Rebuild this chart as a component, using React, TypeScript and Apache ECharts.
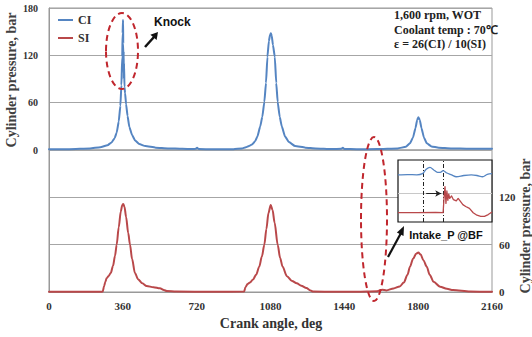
import React, { useEffect, useRef } from "react";
import * as echarts from "echarts";

// ---- Data ----
const ciAngles = [0, 100, 200, 250, 285, 305, 320, 330, 340, 348, 353, 357, 359, 361, 362, 363, 364, 365, 366, 368, 371, 376, 383, 392, 405, 420, 440, 470, 520, 580, 650, 700, 715, 722, 730, 800, 900, 940, 960, 975, 990, 1005, 1016, 1030, 1040, 1050, 1058, 1065, 1072, 1078, 1082, 1086, 1092, 1101, 1108, 1115, 1125, 1135, 1151, 1170, 1200, 1250, 1300, 1380, 1425, 1433, 1440, 1500, 1600, 1700, 1740, 1760, 1775, 1787, 1795, 1801, 1808, 1816, 1828, 1842, 1865, 1900, 1960, 2050, 2160];
const ciValues = [1, 1, 2, 3.5, 6, 9.5, 15, 22, 36, 56, 82, 118, 148, 165, 135, 100, 125, 90, 110, 80, 72, 58, 43, 29, 19, 12, 7.5, 5, 3, 2, 1.5, 1.2, 1.5, 3, 1.2, 1, 1, 2, 3.5, 5, 7, 11, 17, 30, 42, 61, 85, 118, 138, 146, 148, 145, 133, 118, 85, 61, 42, 30, 17, 10, 5, 3, 2, 1.2, 1.5, 3, 1.3, 1, 1.2, 2, 4, 8.5, 16, 28, 38, 41.5, 38, 28, 16, 8.5, 4.5, 3, 2, 1.5, 1.5];

const siAngles = [0, 250, 262, 268, 275, 281, 290, 301, 312, 322, 330, 340, 350, 357, 362, 368, 376, 386, 395, 405, 419, 435, 455, 476, 510, 541, 560, 574, 620, 800, 951, 958, 968, 980, 995, 1010, 1025, 1038, 1050, 1060, 1070, 1081, 1090, 1100, 1115, 1127, 1139, 1160, 1185, 1208, 1230, 1255, 1275, 1289, 1400, 1500, 1600, 1625, 1645, 1680, 1710, 1730, 1748, 1760, 1775, 1790, 1801, 1812, 1826, 1842, 1856, 1875, 1907, 1940, 1970, 2053, 2160];
const siValues = [0.3, 0.3, 0.5, 7, 13, 17.4, 20, 24, 33, 46, 60, 82, 102, 110, 111.6, 108, 95, 75, 60, 42, 24, 16, 11, 7.6, 6, 4.6, 2.5, 1.3, 0.5, 0.3, 0.5, 6, 10, 12, 16, 22, 32, 45, 60, 80, 100, 110.3, 104, 88, 60, 43, 32, 20, 14, 11, 8, 5, 2, 0.5, 0.3, 0.3, 1, 3, 2, 4.5, 7, 12, 22, 32, 42, 48.5, 50, 47.5, 40, 32, 22, 13, 6.7, 4, 2.5, 0.5, 0.3];

// Inset (zoomed intake-pressure view), arbitrary 0-100 scales
const insetX = [0, 10, 20, 26, 30, 34, 38, 42, 45, 48, 52, 57, 62, 70, 78, 84, 90, 95, 100];
const insetBlue = [76, 76.5, 76, 78, 85, 88, 84, 80, 80, 83, 79, 76, 73, 75, 76, 75, 73, 77, 78];
const insetRedX = [0, 20, 40, 48, 49, 50, 51, 52, 53, 54, 55, 57, 59, 62, 64, 66, 69, 72, 76, 80, 84, 88, 92, 96, 100];
const insetRed = [15, 15, 15.5, 15, 40, 57, 30, 50, 35, 45, 38, 42, 36, 34, 38, 34, 28, 25, 22, 15, 11, 9, 9, 12, 16];
const insetMarkers = [27, 48];
const insetRefLevel = 46;

const xTicks = [0, 360, 720, 1080, 1440, 1800, 2160];

const BLUE = "#5585c2";
const RED = "#b9484a";
const SERIF = "'Liberation Serif', 'Times New Roman', serif";
const SANS = "'Liberation Sans', Arial, sans-serif";

const zip = (a: number[], b: number[]) => a.map((v, i) => [v, b[i]]);

export default function App() {
  const ref = useRef<HTMLDivElement>(null);
  useEffect(() => {
    if (!ref.current) return;
    const chart = echarts.init(ref.current, null, { renderer: "svg" });
    const gridLine = { lineStyle: { color: "#a6a6a6", width: 1 } };
    const option: any = {
      animation: false,
      backgroundColor: "#fff",
      legend: {
        data: ["CI", "SI"],
        orient: "vertical",
        left: 53,
        top: 9,
        itemWidth: 15,
        itemHeight: 2,
        itemGap: 6,
        icon: "rect",
        textStyle: { fontFamily: SERIF, fontWeight: "bold", fontSize: 12, color: "#333" },
      },
      grid: [
        { left: 49, top: 8, width: 443, height: 142, show: true, borderColor: "#999", borderWidth: 1 },
        { left: 49, top: 150, width: 443, height: 142, show: true, borderColor: "#999", borderWidth: 1 },
        { left: 398, top: 160, width: 94, height: 62, show: true, borderColor: "#111", borderWidth: 1.2, backgroundColor: "#fff", z: 5 },
      ],
      xAxis: [
        { gridIndex: 0, type: "value", min: 0, max: 2160, interval: 360, show: false },
        {
          gridIndex: 1, type: "value", min: 0, max: 2160, interval: 360,
          axisLine: { show: true, lineStyle: { color: "#999" } },
          axisTick: { show: false },
          splitLine: { show: false },
          axisLabel: { margin: 8, fontFamily: SERIF, fontWeight: "bold", fontSize: 11, color: "#333",
            formatter: (v: number) => (xTicks.includes(v) ? String(v) : "") },
        },
        { gridIndex: 2, type: "value", min: 0, max: 100, show: false },
      ],
      yAxis: [
        {
          gridIndex: 0, type: "value", min: 0, max: 180, interval: 60,
          axisLine: { show: true, lineStyle: { color: "#999" } }, axisTick: { show: false },
          axisLabel: { margin: 11, fontFamily: SERIF, fontWeight: "bold", fontSize: 10, color: "#333" },
          splitLine: gridLine,
        },
        {
          gridIndex: 1, type: "value", min: 0, max: 180, interval: 60, position: "right",
          axisLine: { show: true, lineStyle: { color: "#999" } }, axisTick: { show: false },
          axisLabel: { margin: 7, showMaxLabel: false, fontFamily: SERIF, fontWeight: "bold", fontSize: 11, color: "#333" },
          splitLine: gridLine,
        },
        { gridIndex: 2, type: "value", min: 0, max: 100, show: false },
      ],
      series: [
        {
          name: "CI", type: "line", xAxisIndex: 0, yAxisIndex: 0, data: zip(ciAngles, ciValues),
          showSymbol: false, smooth: 0.15, smoothMonotone: "x", color: BLUE,
          lineStyle: { color: BLUE, width: 2, join: "round", cap: "round" }, z: 3,
        },
        {
          name: "SI", type: "line", xAxisIndex: 1, yAxisIndex: 1, data: zip(siAngles, siValues),
          showSymbol: false, smooth: 0.3, smoothMonotone: "x", color: RED,
          lineStyle: { color: RED, width: 2, join: "round", cap: "round" }, z: 3,
        },
        {
          name: "insetCI", type: "line", xAxisIndex: 2, yAxisIndex: 2, data: zip(insetX, insetBlue),
          showSymbol: false, smooth: 0.3, color: BLUE, lineStyle: { color: BLUE, width: 1.3 }, z: 7,
          markLine: {
            silent: true, symbol: "none", label: { show: false },
            lineStyle: { color: "#c8c8c8", width: 1.2, type: "solid" },
            data: [{ yAxis: insetRefLevel }],
          },
        },
        {
          name: "insetSI", type: "line", xAxisIndex: 2, yAxisIndex: 2, data: zip(insetRedX, insetRed),
          showSymbol: false, color: RED, lineStyle: { color: RED, width: 1.3, join: "round" }, z: 7,
          markLine: {
            silent: true, symbol: "none", label: { show: false },
            lineStyle: { color: "#222", width: 1, type: [4, 2, 1, 2] },
            data: [
              ...insetMarkers.map((m) => ({ xAxis: m })),
              [
                { coord: [insetMarkers[0] + 3, insetRefLevel], symbol: "none" },
                { coord: [insetMarkers[1] - 2, insetRefLevel], symbol: "arrow", symbolSize: [5, 6], lineStyle: { type: "solid", color: "#222", width: 1 } },
              ],
            ],
          },
        },
      ],
      graphic: [
        // axis titles
        { type: "text", x: 11, y: 80, rotation: Math.PI / 2,
          style: { text: "Cylinder pressure, bar", fill: "#404040", font: `bold 14px ${SERIF}`, textAlign: "center", textVerticalAlign: "middle" } },
        { type: "text", x: 525, y: 226, rotation: Math.PI / 2,
          style: { text: "Cylinder pressure, bar", fill: "#404040", font: `bold 14px ${SERIF}`, textAlign: "center", textVerticalAlign: "middle" } },
        { type: "text", x: 271, y: 323,
          style: { text: "Crank angle, deg", fill: "#333", font: `bold 14px ${SERIF}`, textAlign: "center", textVerticalAlign: "middle" } },
        // conditions box
        { type: "text", x: 394, y: 8,
          style: { text: "1,600 rpm, WOT\nCoolant temp : 70℃\nε = 26(CI) / 10(SI)", fill: "#222", font: `bold 12px ${SERIF}`, lineHeight: 14.5, textAlign: "left", textVerticalAlign: "top" } },
        // knock annotation
        { type: "ellipse", shape: { cx: 122, cy: 51, rx: 16, ry: 38 }, z: 10,
          style: { fill: "none", stroke: "#c0262d", lineWidth: 2, lineDash: [6, 4] } },
        { type: "line", shape: { x1: 145, y1: 47, x2: 154, y2: 37 }, z: 10, style: { stroke: "#111", lineWidth: 2.5 } },
        { type: "polygon", shape: { points: [[158, 32], [156.6, 40], [150.4, 34.8]] }, z: 10, style: { fill: "#111" } },
        { type: "text", x: 154, y: 22, z: 10,
          style: { text: "Knock", fill: "#111", font: `bold 12px ${SANS}`, textAlign: "left", textVerticalAlign: "middle" } },
        // intake annotation
        { type: "ellipse", shape: { cx: 374, cy: 219, rx: 13, ry: 82 }, z: 10,
          style: { fill: "none", stroke: "#c0262d", lineWidth: 2, lineDash: [6, 4] } },
        { type: "line", shape: { x1: 388, y1: 257, x2: 401, y2: 233 }, z: 10, style: { stroke: "#111", lineWidth: 2.2 } },
        { type: "polygon", shape: { points: [[404, 226], [403.5, 236], [396.9, 232.4]] }, z: 10, style: { fill: "#111" } },
        { type: "text", x: 446, y: 235, z: 10,
          style: { text: "Intake_P @BF", fill: "#111", font: `bold 11px ${SANS}`, textAlign: "center", textVerticalAlign: "middle" } },
      ],
    };
    chart.setOption(option);
    return () => chart.dispose();
  }, []);
  return (
    <div ref={ref} style={{ position: "fixed", left: 0, top: 0, width: 532, height: 337, background: "#fff" }} />
  );
}
